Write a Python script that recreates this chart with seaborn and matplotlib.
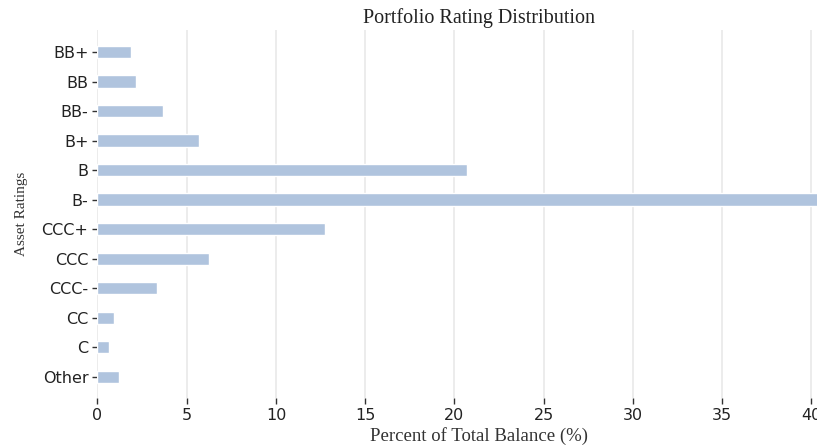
import matplotlib
matplotlib.use("Agg")
import matplotlib.pyplot as plt
import seaborn as sns
import pandas as pd

# rating buckets, top to bottom
ratings = ['BB+', 'BB', 'BB-', 'B+', 'B', 'B-', 'CCC+', 'CCC', 'CCC-', 'CC', 'C', 'Other']
# percent of total balance
pct_balance = [1.88, 2.17, 3.69, 5.70, 20.68, 40.76, 12.75, 6.26, 3.31, 0.94, 0.64, 1.22]

df = pd.DataFrame({'rating': ratings, 'pct': pct_balance})

sns.set_style('whitegrid')

fig = plt.figure(figsize=(8.17, 4.45), dpi=100)
# the original axes runs past the right edge of the picture (it was cropped)
ax = fig.add_axes([0.1193, 0.1056, 0.935, 0.827])

sns.barplot(data=df, x='pct', y='rating', orient='h', color='lightsteelblue',
            saturation=1, width=0.42, ax=ax)

ax.set_xlim(0, 42.8)
ax.set_ylim(11.72, -0.75)
ax.set_xticks(range(0, 41, 5))

ax.grid(axis='x', color='#ebebeb', linewidth=1.3)
ax.grid(axis='y', visible=False)
ax.set_axisbelow(True)
for s in ax.spines.values():
    s.set_visible(False)

ax.tick_params(axis='both', bottom=True, left=True, length=4, width=1,
               color='#333333', labelsize=11.5, labelcolor='#222222', pad=3)
ax.tick_params(axis='y', length=3.5)
for lab in ax.get_xticklabels() + ax.get_yticklabels():
    lab.set_family('DejaVu Sans')

ax.set_title('Portfolio Rating Distribution', family='Liberation Serif', fontsize=14.5,
             color='#222222', pad=5)
ax.set_xlabel('Percent of Total Balance (%)', family='Liberation Serif', fontsize=13.5,
              color='#333333', labelpad=3)
ax.set_ylabel('Asset Ratings', family='Liberation Serif', fontsize=11,
              color='#333333', labelpad=10)

fig.savefig('out.png', dpi=100)
